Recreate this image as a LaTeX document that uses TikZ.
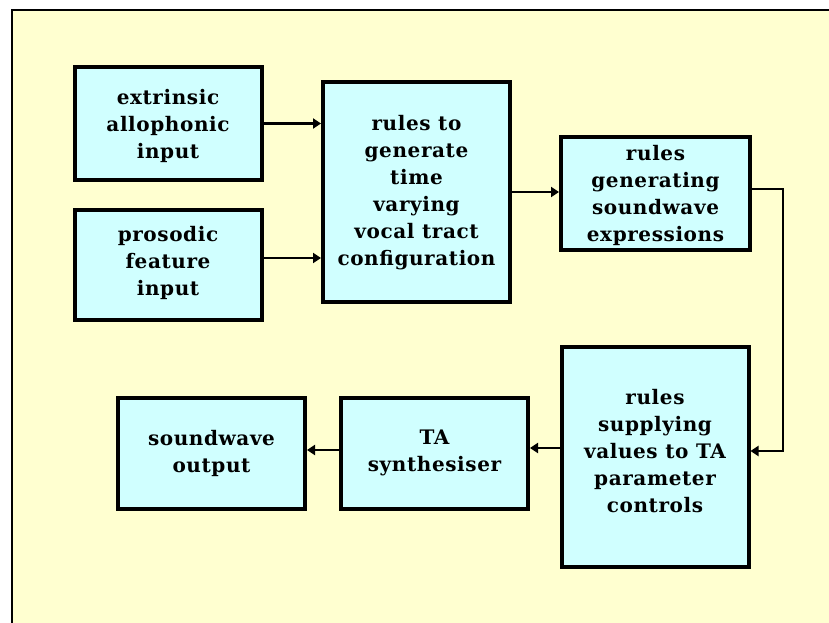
\documentclass[tikz,border=0pt]{standalone}
\usepackage{fontspec}
\setmainfont{DejaVu Serif}[LetterSpace=3]
\usetikzlibrary{arrows.meta}
\definecolor{panel}{RGB}{255,255,208}
\definecolor{boxfill}{RGB}{208,255,255}
\begin{document}
\begin{tikzpicture}[x=1pt,y=-1pt,
  block/.style={draw=black, line width=4pt, fill=boxfill, minimum width=#1,
    inner sep=0pt},
  block/.default=187pt,
  caption/.style={align=center, inner sep=0pt,
    font=\bfseries\fontsize{20}{27}\selectfont},
  link/.style={line width=2pt, -{Triangle[length=8pt,width=10pt]}}]
  % page and panel
  \useasboundingbox (0,0) rectangle (829,623);
  \fill[panel] (12,10) rectangle (829,623);
  \draw[line width=1.5pt] (12,623) -- (12,10) -- (829,10);

  % input stage
  \node[block, minimum height=113pt] (ext) at (168,123.5) {};
  \node[caption] (extT) at ([yshift=-2.5pt]ext.center) {extrinsic\\allophonic\\input};
  \node[block, minimum height=110pt] (pros) at (168,265) {};
  \node[caption] (prosT) at ([yshift=2pt]pros.center) {prosodic\\feature\\input};
  \node[block, minimum height=220pt] (gen) at (416.5,192) {};
  \node[caption] (genT) at ([yshift=-0.5pt]gen.center)
    {rules to\\generate\\time\\varying\\vocal tract\\configuration};
  \node[block=189pt, minimum height=113pt] (wave) at (655.5,193.5) {};
  \node[caption] (waveT) at ([yshift=-1.5pt]wave.center)
    {rules\\generating\\soundwave\\expressions};

  % output stage
  \node[block, minimum height=220pt] (sup) at (655,457) {};
  \node[caption] (supT) at ([yshift=5.5pt]sup.center)
    {rules\\supplying\\values to TA\\parameter\\controls};
  \node[block, minimum height=111pt] (ta) at (434.5,453.5) {};
  \node[caption] (taT) at ([yshift=0.5pt]ta.center) {TA\\synthesiser};
  \node[block, minimum height=111pt] (out) at (211.5,453.5) {};
  \node[caption] (outT) at ([yshift=0.5pt]out.center) {soundwave\\output};

  % connector anchors
  \coordinate (prosOut) at ([yshift=7pt]pros.east);
  \coordinate (waveOut) at ([yshift=4.5pt]wave.east);
  \coordinate (supIn) at ([yshift=6pt]sup.east);
  \coordinate (supOut) at ([yshift=9pt]sup.west);
  \coordinate (taOut) at ([yshift=3.5pt]ta.west);
  \coordinate (turn) at (783,189);

  % connectors
  \draw[link] (ext.east) -- (gen.west |- ext.east);
  \draw[link] (prosOut) -- (gen.west |- prosOut);
  \draw[link] (gen.east) -- (wave.west |- gen.east);
  \draw[link] (waveOut) -- (turn) -- (turn |- supIn) -- (supIn);
  \draw[link] (supOut) -- (ta.east |- supOut);
  \draw[link] (taOut) -- (out.east |- taOut);
\end{tikzpicture}
\end{document}
